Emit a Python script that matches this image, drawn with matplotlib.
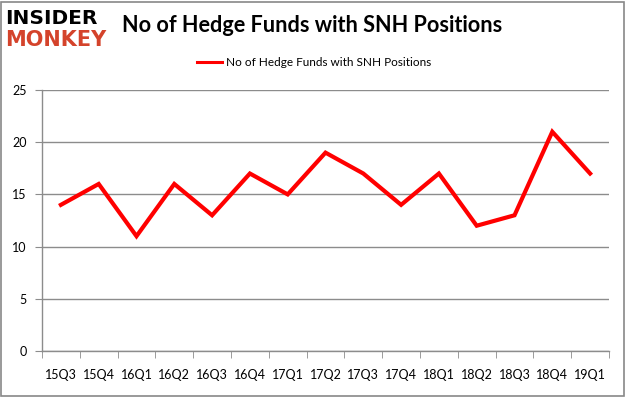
import matplotlib
matplotlib.use("Agg")
import matplotlib.pyplot as plt
from matplotlib.patches import Rectangle
import numpy as np

quarters = ["15Q3", "15Q4", "16Q1", "16Q2", "16Q3", "16Q4", "17Q1", "17Q2",
            "17Q3", "17Q4", "18Q1", "18Q2", "18Q3", "18Q4", "19Q1"]
funds = [14, 16, 11, 16, 13, 17, 15, 19, 17, 14, 17, 12, 13, 21, 17]
yticks = [0, 5, 10, 15, 20, 25]
series_name = "No of Hedge Funds with SNH Positions"
title = "No of Hedge Funds with SNH Positions"

W, H = 626, 397
fig = plt.figure(figsize=(W / 100, H / 100), dpi=100)
fig.patch.set_facecolor("white")
fig.add_artist(Rectangle((1 / W, 1 / H), (W - 3) / W, (H - 3) / H, transform=fig.transFigure,
                         fill=False, edgecolor="#888888", linewidth=1.2))

left, right, top, bottom = 42, 609, 90, 351
ax = fig.add_axes([left / W, 1 - bottom / H, (right - left) / W, (bottom - top) / H])
x = np.arange(len(quarters))
ax.plot(x, funds, color="#ff0000", linewidth=3, solid_joinstyle="miter", label=series_name)
ax.set_xlim(-0.5, len(quarters) - 0.5)
ax.set_ylim(0, 25)
ax.set_yticks(yticks)
ax.set_yticklabels([str(v) for v in yticks], fontsize=9, family="Lato")
ax.yaxis.grid(True, color="#8c8c8c", linewidth=1)
ax.set_axisbelow(True)
ax.set_xticks(x)
ax.set_xticklabels(quarters, fontsize=9, family="Lato")
ax.set_xticks(np.arange(-0.5, len(quarters), 1), minor=True)
ax.tick_params(axis="x", which="major", length=0, pad=13)
ax.tick_params(axis="x", which="minor", length=5, color="#8c8c8c", direction="out")
ax.tick_params(axis="y", length=5, color="#8c8c8c", direction="out", pad=6)
for s in ["top", "right"]:
    ax.spines[s].set_visible(False)
for s in ["left", "bottom"]:
    ax.spines[s].set_color("#8c8c8c")
    ax.spines[s].set_linewidth(1)

# Title
fig.text(122 / W, 1 - 26 / H, title, fontsize=15.6, fontweight="bold", family="Lato",
         va="center", ha="left", color="black")
# Legend
fig.add_artist(plt.Line2D([197 / W, 222 / W], [1 - 62 / H, 1 - 62 / H], color="#ff0000",
                          linewidth=2.2, transform=fig.transFigure))
fig.text(226 / W, 1 - 62 / H, series_name, fontsize=8.5, family="Lato", va="center", ha="left")

# Logo
fig.text(5 / W, 1 - 18 / H, "INSIDER", fontsize=14.5, fontweight="black", family="DejaVu Sans",
         va="center", ha="left", color="black")
fig.text(5 / W, 1 - 40 / H, "MONKEY", fontsize=15, fontweight="black", family="DejaVu Sans",
         va="center", ha="left", color="#d4432b")

fig.savefig("out.png", dpi=100)
